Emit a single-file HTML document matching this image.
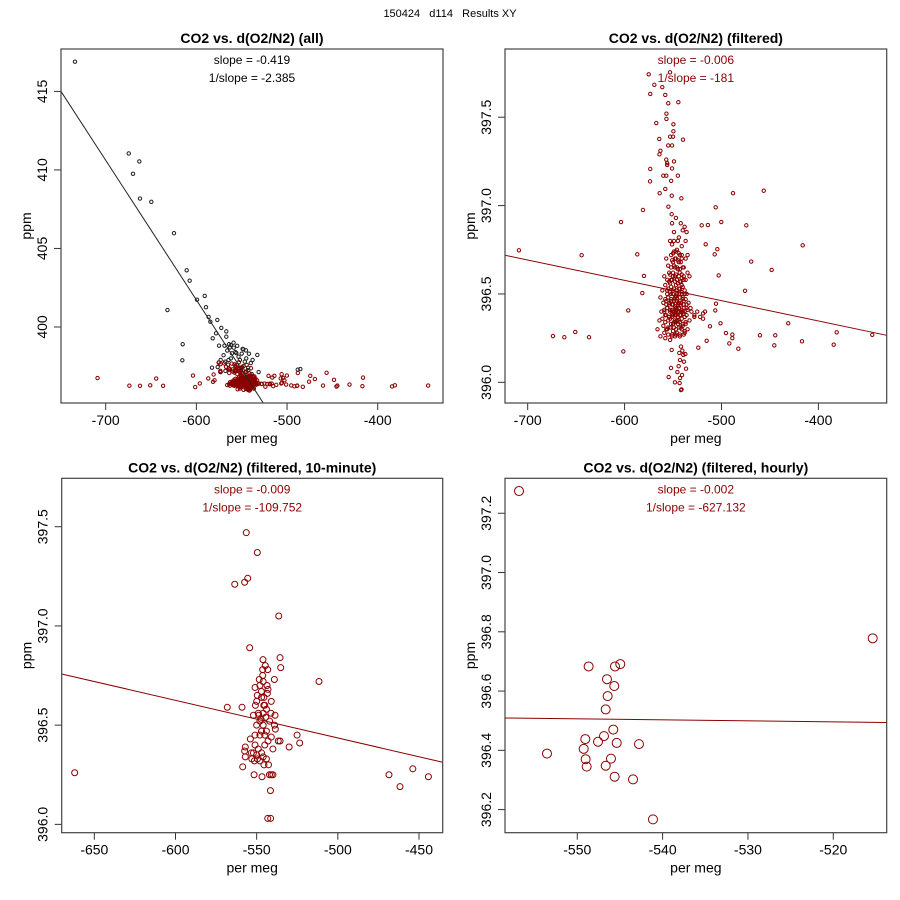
<!DOCTYPE html>
<html><head><meta charset="utf-8"><style>
body{margin:0;background:#fff;}
svg{display:block;font-family:"Liberation Sans",sans-serif;}
</style></head><body>
<svg id="chart" width="900" height="900" viewBox="0 0 900 900">
<rect width="900" height="900" fill="#fff"/>
<text x="450" y="17" text-anchor="middle" font-size="11" style="white-space:pre" xml:space="preserve">150424   d114   Results XY</text>
</svg>
<script>
// ---- data ----
const allOnlyX = [-733.9,-674.6,-662.9,-669.9,-662.2,-649.7,-624.7,-610.7,-607.4,-599.3,-590.8,-589.4,-631.9,-586.5,-584.6,-576.9,-572.5,-578.3,-582,-567,-567,-615.1,-615.5,-564,-562,-575,-569,-558.8,-555.9,-548.2,-545.3,-532.8,-488.2,-485.3,-582.8,-576.5,-573.2,-568.3,-564.5,-560.8,-553.5,-546.6,-542.8,-539,-531.3,-575.4,-573.2,-570,-566,-562,-558,-555,-552,-550,-548,-545,-543,-540,-560,-565,-568,-556,-546,-553,-549,-563,-559,-557,-542,-538];
const allOnlyY = [416.89,411.05,410.54,409.75,408.18,407.97,405.97,403.61,402.95,401.74,401.98,401.26,401.08,400.64,400.34,400.45,399.94,399.6,399.28,399.72,399.38,398.9,397.88,398.9,398.85,398.81,398.81,398.68,398.34,398.58,398.51,398.22,397.28,397.32,397.41,397.45,397.13,397.79,397.9,398.32,398.11,397.79,397.26,397.0,397.13,397.73,397.9,398.2,398.5,398.0,397.6,398.8,397.9,398.3,397.5,398.0,397.4,397.7,397.3,397.6,397.2,397.2,397.1,397.35,398.6,398.7,399.0,398.4,398.3,397.9];
const filtX = [-709,-644.3,-673.9,-662.2,-650.9,-636.7,-601.3,-603.7,-581,-586.9,-596.2,-580,-581.7,-488.1,-456.4,-506,-500.2,-474.4,-520.4,-514,-516.3,-504.3,-507,-502.9,-469.3,-448.2,-416.2,-475.7,-505.7,-506.4,-501,-495.4,-488.8,-488.8,-491.9,-482.6,-460.3,-444.5,-445.5,-431.1,-416.9,-381.1,-384.2,-344.4,-523.9,-515.3,-511.9,-528,-519,
-575.1,-553.1,-569.3,-573.5,-561.1,-558,-554.9,-544.5,-556.8,-556.8,-567.3,-549.6,-549.6,-553,-550,-564.2,-539.7,-555,-551,-563,-564,-557,-556,-549,-556,-551,-573.5,-560,-557,-545,-573.7,-551.9,-558,-563.8,-551.3,-541.4,-554.8,-551.4,
-551.4,-541.8,-540.4,-543.5,-539.4,-537.3,-542.8,-538.7,-544.2,-536.6,-552.1,-545.5,-540.7,-554.5,-542.8,-548,-543.2,-541.8,-541.2,
-560,-558,-556,-555,-554,-553,-552,-551,-550,-549,-548,-547,-546,-545,-544,-543,-542,-541,-540,-539,-538,-537,-536,-535,-559,-557,-553,-549,-546,-544,-541,-539,-538,-551,-547,-543,-555,-550,-545,-541,-548,-552,-546,-544,-550,-556,-562,-564,-566,-563,-558,-553,-548,-543,-538,-533,-531,-528,-525,-522,-519,-517,-560,-557,-554,-551,-549,-547,-545,-542,-540,-537,-536,-534,-532,-533,-535,-537,-540,-542,-544,-549,-552,-554,-556,-558,-561,-563,-559,-552,-550,-548,-546,-544,-543,-547,-549,-551,-553,-545,-543,-541,-539,-547,-545,-548,-550,-546,-544,-542,-540,-538,-541,-543,-546,-548,-550,-553,-555,-557,-559,-561,-535,-537,-539,-541,-545,-547,-549,-536,-551];
const filtY = [396.747,396.719,396.262,396.255,396.285,396.255,396.175,396.907,396.975,396.724,396.407,396.602,396.505,397.07,397.084,396.99,396.907,396.888,396.888,396.89,396.781,396.753,396.724,396.605,396.683,396.636,396.775,396.518,396.445,396.407,396.334,396.279,396.27,396.25,396.22,396.19,396.266,396.266,396.209,396.334,396.232,396.283,396.213,396.269,396.196,396.235,396.317,396.37,396.39,
397.743,397.754,397.683,397.632,397.670,397.626,397.579,397.585,397.52,397.49,397.467,397.46,397.42,397.39,397.39,397.377,397.373,397.34,397.34,397.31,397.29,397.26,397.24,397.25,397.23,397.21,397.207,397.169,397.169,397.169,397.137,397.14,397.094,397.07,397.056,397.041,396.994,396.951,
396.183,396.202,396.179,396.166,396.155,396.16,396.126,396.117,396.091,396.077,396.081,396.058,396.041,396.03,396.024,396.0,395.996,395.956,395.96,
396.45,396.38,396.52,396.31,396.44,396.36,396.58,396.41,396.33,396.47,396.39,396.55,396.28,396.43,396.35,396.62,396.4,396.5,396.32,396.46,396.37,396.7,396.42,396.3,396.6,396.7,396.8,396.85,396.75,396.82,396.77,396.65,396.88,396.9,396.93,396.72,396.66,396.68,396.64,396.59,396.6,396.5,396.5,396.53,396.52,396.42,396.4,396.35,396.3,396.26,396.25,396.24,396.26,396.27,396.28,396.35,396.4,396.38,396.4,396.37,396.36,396.4,396.32,396.3,396.37,396.27,396.31,396.34,396.37,396.31,396.4,396.33,396.5,396.45,396.42,396.6,396.72,396.8,396.86,396.9,396.68,396.74,396.72,396.62,396.58,396.55,396.52,396.48,396.28,396.46,396.44,396.48,396.46,396.45,396.48,396.42,396.4,396.37,396.4,396.4,396.38,396.36,396.42,396.38,396.33,396.35,396.38,396.41,396.4,396.44,396.48,396.52,396.55,396.57,396.58,396.65,396.6,396.56,396.48,396.46,396.4,396.36,396.62,396.58,396.6,396.7,396.8,396.7,396.8,396.85,396.78];
const filtCoreX = [-556,-553,-550,-547,-544,-541,-538,
-558,-555,-552,-549,-546,-543,-540,-537,
-557,-554,-551,-548,-545,-542,-539,-536,
-559,-556,-553,-550,-547,-544,-541,-538,-535,
-557,-554,-551,-548,-545,-542,-539,-536,
-558,-555,-552,-549,-546,-543,-540,-537,
-556,-553,-550,-547,-544,-541,-538,
-555,-552,-549,-546,-543,-540,
-554,-551,-548,-545,-542,-539,
-553,-550,-547,-544,-541,
-552,-549,-546,-543,-540,
-551,-548,-545,-542,
-550,-547,-544,-541,
-555,-551,-547,-543,-539];
const filtCoreY = [396.30,396.31,396.29,396.30,396.31,396.30,396.29,
396.34,396.35,396.33,396.34,396.35,396.34,396.33,396.34,
396.38,396.37,396.39,396.38,396.37,396.38,396.39,396.38,
396.41,396.42,396.41,396.40,396.41,396.42,396.41,396.40,396.41,
396.44,396.45,396.44,396.43,396.44,396.45,396.44,396.44,
396.47,396.48,396.47,396.46,396.47,396.48,396.47,396.47,
396.50,396.51,396.50,396.49,396.50,396.51,396.50,
396.53,396.54,396.53,396.52,396.53,396.54,
396.57,396.58,396.57,396.56,396.57,396.58,
396.61,396.62,396.61,396.60,396.61,
396.65,396.66,396.65,396.64,396.65,
396.69,396.70,396.69,396.68,
396.73,396.74,396.73,396.72,
396.27,396.26,396.27,396.26,396.27];
const tenX = [-662.1,-556.4,-549.6,-563.5,-557.4,-555.5,-536.4,-554.3,-546.1,-535.6,-544.7,-543.2,-535.2,-546.3,-546.3,-548.4,-539.1,-511.6,-551,-543.6,-547.1,-549.6,-545.5,-543.4,-541,-568.1,-559,-550.8,-545.6,-548.7,-541.2,-538.7,-547.3,-544.4,-525.1,-523.5,-530,-538.5,-536.7,-535.6,-553.9,-557,-557,-557.4,-553.3,-551.4,-549.5,-545.5,-542.7,-558.6,-551.6,-546.7,-542.1,-541,-540,-541.5,-543.2,-541.4,-468.5,-461.7,-453.8,-444.2,
-552,-550,-548,-546,-544,-542,-549,-547,-545,-543,-551,-553,-548,-546,-544,-550,-547,-545,-543,-548,-546,-549,-546,-544,-551,-552,-550,-547,-541,-540,-539,-545,-548];
const tenY = [396.26,397.47,397.37,397.21,397.22,397.24,397.05,396.89,396.83,396.84,396.80,396.78,396.79,396.78,396.75,396.73,396.73,396.72,396.69,396.70,396.67,396.65,396.64,396.66,396.62,396.59,396.59,396.60,396.60,396.55,396.56,396.55,396.53,396.54,396.45,396.41,396.39,396.48,396.42,396.42,396.43,396.39,396.34,396.37,396.36,396.32,396.33,396.30,396.30,396.29,396.25,396.24,396.25,396.25,396.25,396.17,396.03,396.03,396.25,396.19,396.28,396.24,
396.55,396.5,396.45,396.5,396.47,396.52,396.38,396.36,396.4,396.42,396.4,396.33,396.32,396.34,396.33,396.62,396.64,396.6,396.68,396.7,396.72,396.56,396.56,396.58,396.45,396.36,396.35,396.47,396.44,396.38,396.5,396.45,396.52];
const hourX = [-556.83,-515.38,-548.67,-545.58,-544.96,-546.52,-545.66,-546.44,-546.67,-545.78,-546.87,-549.06,-547.57,-545.38,-542.77,-549.25,-553.55,-549.02,-546.05,-548.9,-546.67,-545.62,-543.47,-541.13];
const hourY = [397.275,396.778,396.683,396.683,396.691,396.640,396.617,396.583,396.538,396.470,396.448,396.438,396.429,396.425,396.421,396.405,396.389,396.370,396.372,396.345,396.348,396.311,396.302,396.167];
const allFitX = [-749.3,-526.2];
const allFitY = [415.0,395.16];
const filtFitX = [-723.4,-329.5];
const filtFitY = [396.719,396.266];
const tenFitX = [-670.1,-435.4];
const tenFitY = [396.758,396.313];
const hourFitX = [-558.47,-513.74];
const hourFitY = [396.509,396.494];
const ticksX1 = [-700,-600,-500,-400];
const ticksY1 = [400,405,410,415];
const ticksX2 = [-700,-600,-500,-400];
const ticksY2 = [396.0,396.5,397.0,397.5];
const ticksX3 = [-650,-600,-550,-500,-450];
const ticksY3 = [396.0,396.5,397.0,397.5];
const ticksX4 = [-550,-540,-530,-520];
const ticksY4 = [396.2,396.4,396.6,396.8,397.0,397.2];
const titles = ["CO2 vs. d(O2/N2) (all)","CO2 vs. d(O2/N2) (filtered)","CO2 vs. d(O2/N2) (filtered, 10-minute)","CO2 vs. d(O2/N2) (filtered, hourly)"];
const slopeTexts = ["slope = -0.419","slope = -0.006","slope = -0.009","slope = -0.002"];
const invSlopeTexts = ["1/slope = -2.385","1/slope = -181","1/slope = -109.752","1/slope = -627.132"];

const NS="http://www.w3.org/2000/svg";
const svg=document.getElementById('chart');
const RED="#8b0000";
function mk(tag,attrs,parent){const e=document.createElementNS(NS,tag);for(const k in attrs)e.setAttribute(k,attrs[k]);(parent||svg).appendChild(e);return e;}

function panel(i,box,xd,yd,tx,ty,yfmt){
  const g=mk('g',{});
  
  
  const sx=v=>box.l+(v-xd[0])/(xd[1]-xd[0])*(box.r-box.l);
  const sy=v=>box.b-(v-yd[0])/(yd[1]-yd[0])*(box.b-box.t);
  const cx=(box.l+box.r)/2;
  const t=mk('text',{x:cx,y:box.t-6,'text-anchor':'middle','font-size':14,'font-weight':'bold'},g);t.textContent=titles[i];
  
  
  const col=i===0?'#000':RED;
  const s1=mk('text',{x:cx,y:box.t+15,'text-anchor':'middle','font-size':12,fill:col},g);s1.textContent=slopeTexts[i];
  
  
  const s2=mk('text',{x:cx,y:box.t+33,'text-anchor':'middle','font-size':12,fill:col},g);s2.textContent=invSlopeTexts[i];
  
  
  tx.forEach(v=>{const x=sx(v);
    const l=mk('line',{x1:x,x2:x,y1:box.b,y2:box.b+7,stroke:'#333'},g);
    
    
    const tt=mk('text',{x:x,y:box.b+22,'text-anchor':'middle','font-size':14},g);tt.textContent=String(v);
    
    });
  ty.forEach(v=>{const y=sy(v);
    const l=mk('line',{x1:box.l-7,x2:box.l,y1:y,y2:y,stroke:'#333'},g);
    
    
    const tt=mk('text',{x:0,y:0,'text-anchor':'middle','font-size':14,transform:`translate(${box.l-14},${y}) rotate(-90)`},g);tt.textContent=yfmt(v);
    
    });
  const xl=mk('text',{x:cx,y:box.b+40,'text-anchor':'middle','font-size':14},g);xl.textContent='per meg';
  
  
  const yl=mk('text',{x:0,y:0,'text-anchor':'middle','font-size':14,transform:`translate(${box.l-30},${(box.t+box.b)/2}) rotate(-90)`},g);yl.textContent='ppm';
  
  
  const clip=mk('clipPath',{id:'c'+i},g);mk('rect',{x:box.l,y:box.t,width:box.r-box.l,height:box.b-box.t},clip);
  const pg=mk('g',{'clip-path':`url(#c${i})`},g);
  return {g,pg,sx,sy,box};
}
function pts(p,xs,ys,r,col,name){xs.forEach((v,k)=>{const c=mk('circle',{cx:p.sx(v),cy:p.sy(ys[k]),r:r,fill:'none',stroke:col,'stroke-width':1},p.pg);
  
  });}
function fit(p,xs,ys,col){const l=mk('line',{x1:p.sx(xs[0]),y1:p.sy(ys[0]),x2:p.sx(xs[1]),y2:p.sy(ys[1]),stroke:col,'stroke-width':1},p.pg);
  
  }
function frame(p){const r=mk('rect',{x:p.box.l,y:p.box.t,width:p.box.r-p.box.l,height:p.box.b-p.box.t,fill:'none',stroke:'#444','stroke-width':1.2},p.g);
  
  }

const f0=v=>String(v), f1=v=>v.toFixed(1);
const p1=panel(0,{l:61,r:443,t:49,b:403},[-749.3,-328],[395.16,417.7],ticksX1,ticksY1,f0);
pts(p1,allOnlyX,allOnlyY,1.7,'#222','point-all');
pts(p1,filtX,filtY,1.7,RED,'point-filtered');
pts(p1,filtCoreX,filtCoreY,1.7,RED,'point-filtered');
fit(p1,allFitX,allFitY,'#222');frame(p1);

const p2=panel(1,{l:505,r:886.7,t:49,b:403},[-723.4,-329.5],[395.883,397.886],ticksX2,ticksY2,f1);
pts(p2,filtX,filtY,1.7,RED,'point-filtered');
pts(p2,filtCoreX,filtCoreY,1.7,RED,'point-filtered');
fit(p2,filtFitX,filtFitY,RED);frame(p2);

const p3=panel(2,{l:61.7,r:442.7,t:478.3,b:832.7},[-670.1,-435.4],[395.958,397.744],ticksX3,ticksY3,f1);
pts(p3,tenX,tenY,3,RED,'point-10-minute');
fit(p3,tenFitX,tenFitY,RED);frame(p3);

const p4=panel(3,{l:505,r:886.7,t:478.3,b:832.7},[-558.47,-513.74],[396.122,397.318],ticksX4,ticksY4,f1);
pts(p4,hourX,hourY,4.5,RED,'point-hourly');
fit(p4,hourFitX,hourFitY,RED);frame(p4);
</script>
</body></html>
